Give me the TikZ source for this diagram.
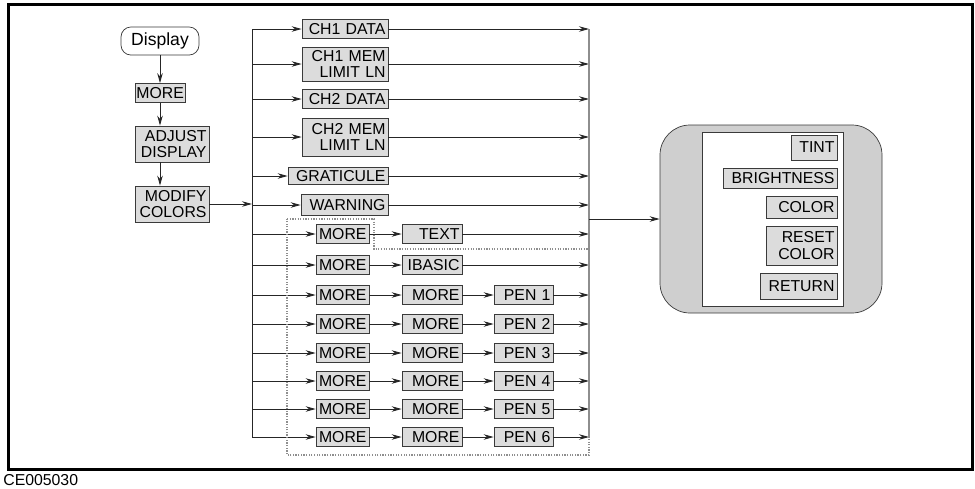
\documentclass[tikz,border=0pt]{standalone}
\usepackage{fontspec}
\setmainfont{Liberation Sans}
\usetikzlibrary{arrows.meta, positioning}
\definecolor{KeyFill}{HTML}{DCDCDC}
\definecolor{PanelFill}{HTML}{CFCFCF}
\definecolor{KeyEdge}{HTML}{3A3A3A}
\definecolor{BusGray}{HTML}{8E8E8E}
\tikzset{
    key/.style={
        draw=KeyEdge,
        fill=KeyFill,
        font=\fontsize{9}{9.6}\selectfont,
        align=right,
        inner xsep=0.5mm,
        inner ysep=0.3mm,
        minimum height=3.8mm,
        text width=#1
    },
    key/.default=9.6mm,
    hardkey/.style={
        draw=KeyEdge,
        fill=white,
        rounded corners=2mm,
        font=\fontsize{10}{12}\selectfont,
        minimum width=15.6mm,
        minimum height=4.8mm
    },
    arrow/.style={
        -{Stealth[length=2mm, width=1.1mm]},
        line width=0.5pt,
        black!85
    },
    wire/.style={
        line width=0.5pt,
        black!85
    },
    panel/.style={
        draw=KeyEdge,
        fill=PanelFill,
        rounded corners=6mm,
        minimum width=44.4mm,
        minimum height=37.6mm
    },
    region/.style={
        draw=BusGray,
        line width=0.6pt,
        dash pattern=on 0.7pt off 0.8pt
    }
}
\begin{document}
\begin{tikzpicture}[x=0.2mm, y=-0.2mm]
        \useasboundingbox (0,0) rectangle (975,488);
        \draw[line width=1.7pt] (8.5,4.5) rectangle (972.5,469.5);
        \node[font=\fontsize{9}{10}\selectfont, anchor=west, inner sep=0pt] (code) at (3,480) {CE005030};

        % Front panel path
        \node[hardkey] (display) at (160,41) {Display};
        \node[key=9.4mm, inner xsep=0.3mm, align=center] (more) at (160,93) {MORE};
        \node[key=13.8mm, minimum height=7.2mm] (adjust) at (172,144) {ADJUST\\DISPLAY};
        \node[key=13.8mm, minimum height=7.2mm] (modify) at (172,204) {MODIFY\\COLORS};
        \draw[arrow] (display) -- (more);
        \draw[arrow] (more.south) -- (more.south |- adjust.north);
        \draw[arrow] (adjust.south -| more) -- (modify.north -| more);

        % Buses
        \coordinate (busL) at (252,0);
        \coordinate (busR) at (589,0);

        % First level keys
        \node[key=16.2mm] (ch1data) at (345,29) {CH1 DATA};
        \node[key=16.2mm, minimum height=6.8mm] (ch1mem) at (345,64) {CH1 MEM\\LIMIT LN};
        \node[key=16.2mm] (ch2data) at (345,99) {CH2 DATA};
        \node[key=16.2mm, minimum height=7.6mm] (ch2mem) at (345,137) {CH2 MEM\\LIMIT LN};
        \node[key=19mm, minimum height=3.4mm] (graticule) at (338,176) {GRATICULE};
        \node[key=16.4mm, minimum height=4.2mm] (warning) at (344.5,205) {WARNING};
        \node[key] (moreA) at (342.5,234) {MORE};
        \node[key=11mm] (text) at (432,234) {TEXT};
        \node[key] (moreB) at (342.5,265) {MORE};
        \node[key=11mm] (ibasic) at (432,265) {IBASIC};
        \foreach \i/\y in {1/295,2/324,3/353,4/381,5/409,6/437} {
            \node[key] (mone\i) at (342.5,\y) {MORE};
            \node[key=11mm] (mtwo\i) at (432,\y) {MORE};
            \node[key=10.8mm] (pen\i) at (523.5,\y) {PEN \i};
            \draw[arrow] (mone\i -| busL) -- (mone\i.west);
            \draw[arrow] (mone\i.east) -- (mtwo\i.west);
            \draw[arrow] (mtwo\i.east) -- (pen\i.west);
            \draw[arrow] (pen\i.east) -- (pen\i -| busR);
        }
        \foreach \n in {ch1data,ch1mem,ch2data,ch2mem,graticule,warning} {
            \draw[arrow] (\n -| busL) -- (\n.west);
            \draw[arrow] (\n.east) -- (\n -| busR);
        }
        \draw[arrow] (moreA -| busL) -- (moreA.west);
        \draw[arrow] (moreA.east) -- (text.west);
        \draw[arrow] (text.east) -- (text -| busR);
        \draw[arrow] (moreB -| busL) -- (moreB.west);
        \draw[arrow] (moreB.east) -- (ibasic.west);
        \draw[arrow] (ibasic.east) -- (ibasic -| busR);

        \draw[wire] (ch1data -| busL) -- (mone6 -| busL);
        \draw[arrow] (modify.east) -- (modify -| busL);
        \draw[BusGray, line width=0.7pt] (ch1data -| busR) -- (mone6 -| busR);

        % Dotted group
        \draw[region] (287,219) -- (374,219) -- (374,249) -- (589,249) -- (589,455) -- (287,455) -- cycle;

        % Color menu
        \node[panel] (panel) at (771,219) {};
        \node[draw=KeyEdge, fill=white, minimum width=28.2mm, minimum height=34.8mm] (menu) at (772.5,219) {};
        \node[key=8.2mm, minimum height=5mm] (tint) at (814,147.5) {TINT};
        \node[key=21.8mm, minimum height=4mm] (bright) at (780,178) {BRIGHTNESS};
        \node[key=13.2mm, minimum height=4.4mm] (color) at (801.5,207) {COLOR};
        \node[key=13.2mm, minimum height=7.8mm] (reset) at (801.5,245.5) {RESET\\COLOR};
        \node[key=14.4mm, minimum height=5.2mm] (return) at (798.5,286) {RETURN};
        \draw[arrow] (panel.west -| busR) -- (panel.west);
    \end{tikzpicture}
\end{document}
